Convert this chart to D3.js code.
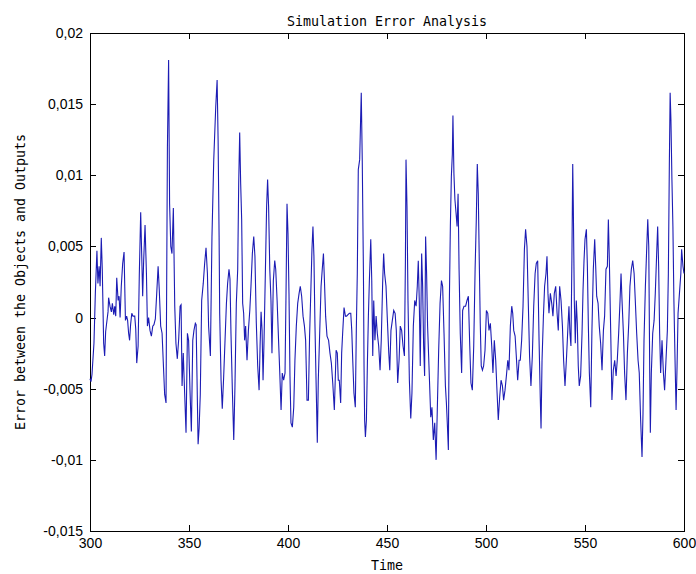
<!DOCTYPE html>
<html>
<head>
<meta charset="utf-8">
<script src="https://cdn.jsdelivr.net/npm/d3@7"></script>
<style>
  body { margin: 0; background: #fff; }
</style>
</head>
<body>
<div id="chart"></div>
<script>
"use strict";

// values (time, error)
const time = [
  300,300.5,301,302,302.7,303.5,304,304.6,305.1,305.7,
  306.2,306.9,307.4,307.9,308.4,309.1,309.4,310.1,310.8,311.3,
  312,312.5,313,313.5,314.2,314.7,315.2,315.8,316.5,317.2,
  317.9,318.5,319,319.5,320,320.5,321.1,321.7,322.6,323.1,
  323.6,324.3,324.9,325.6,326.1,326.6,327.1,327.8,328.5,329,
  329.6,330.3,331,331.7,332.3,333,333.7,334.4,335,335.7,
  336.4,337,337.7,338.4,339.1,339.7,340.2,340.8,341.4,342.1,
  342.8,343.4,344.1,344.8,345.5,346,346.5,347.1,347.8,348.5,
  349.2,349.8,350.5,351.2,351.9,352.5,353.2,353.6,354.6,355.1,
  355.7,356.4,357.2,357.9,358.6,359.3,359.9,
  360.8,361.6,362.5,363.5,364.2,364.7,365.2,365.5,366.2,366.8,
  367.5,368.2,368.9,369.5,370.2,370.7,371.2,371.9,372.6,373.2,
  373.9,374.6,375.1,375.6,376.1,376.6,377.1,377.6,378.1,378.6,
  379.3,380,380.7,381.3,382,382.7,383.3,384,384.7,385.4,
  385.9,386.4,386.9,387.4,387.9,388.6,389.2,389.7,390.2,390.8,
  391.4,391.9,392.6,393.3,393.8,394.5,395.1,395.8,396.5,397.1,
  397.8,398.5,399,399.5,400,400.5,401,401.5,402.2,402.9,
  403.5,404.2,404.9,405.6,406.2,406.9,407.6,408.3,408.9,409.6,
  410.3,410.9,411.6,412.1,412.6,413.1,413.6,414.3,414.8,415.3,
  416,416.7,417.3,417.9,418.4,419,419.7,
  420.5,421.2,421.9,422.6,423.4,424.3,424.9,425.4,425.9,426.6,
  427.1,427.6,428.3,429,429.6,430.3,431,431.7,432.2,432.7,
  433.3,434,434.5,435,435.5,436.2,436.7,437,437.5,438.1,
  438.4,438.7,439.1,439.6,440.1,440.6,441.1,441.8,442.3,442.8,
  443.3,443.9,444.5,445.1,445.8,446.5,447.1,447.8,448.3,448.8,
  449.5,450.2,450.9,451.4,452,452.7,453.4,454.1,454.7,455.4,
  456.1,456.7,457.4,458.1,458.8,459.3,459.6,460.1,460.6,461.3,
  462,462.6,463.3,464,464.7,465.3,465.8,466.3,466.8,467.5,
  468,468.5,469,469.5,470,470.5,471.1,472.1,472.7,473.4,
  474.1,474.8,475.4,476.1,476.8,477.5,478.1,478.8,479.5,
  480,480.6,481,481.5,482,482.5,483,483.3,483.8,484.3,
  484.9,485.4,485.9,486.4,487,487.7,488.2,488.9,489.7,490.4,
  491.1,491.8,492.4,493.1,493.8,494.5,495.1,495.6,496.1,496.6,
  497.1,497.6,498.2,498.8,499.5,500.2,500.9,501.5,502.2,502.9,
  503.5,504.2,504.9,505.6,506.2,506.9,507.6,508.3,508.9,509.6,
  510.3,511,511.6,512.3,513,513.5,514,514.7,515.3,516,
  516.7,517.3,518,518.7,519.4,520,520.7,521.4,522,522.7,
  523.4,524.1,524.8,525.4,526.1,526.8,527.4,527.8,528.3,529,
  529.6,530.3,530.8,531.3,531.8,532.5,533.2,533.8,534.5,535.2,
  535.9,536.5,537.2,537.9,538.6,539.2,539.9,
  540.7,541.4,541.9,542.4,542.9,543.4,543.8,544.1,544.6,545.1,
  545.6,546.1,546.6,547.1,547.8,548.5,549,549.5,550,550.7,
  551.2,551.7,552.2,552.9,553.5,554.2,554.9,555.4,555.9,556.6,
  557.2,557.9,558.6,559.3,559.9,560.6,561.3,561.8,562.3,563,
  563.6,564.3,565,565.7,566.3,567,567.7,568.2,568.7,569.4,
  570,570.7,571.4,572.1,572.7,573.4,574.1,574.8,575.4,576.1,
  576.8,577.4,578.1,578.8,579.3,579.8,580.5,581.2,581.7,582.2,
  582.7,583,583.5,584.2,584.9,585.5,586.2,586.7,587.2,587.7,
  588.2,588.9,589.6,590.2,590.9,591.6,592.1,592.6,593,593.4,
  593.9,594.4,594.9,595.5,596,596.5,597,597.7,598.4,598.8,
  599.5,600
];

const error = [
  -.0043,-.0045,-.0040,-.0018,.0017,.0047,.0024,.0036,.0022,.0056,
  .0034,-.0018,-.0027,-.0010,-.0004,.0004,.0014,.0008,.0004,.0010,
  .0002,.0008,.0001,.0028,.0012,.0015,.0000,.0022,.0038,.0046,
  -.0002,.0001,-.0002,-.0011,-.0016,-.0005,.0003,.0001,.0001,-.0008,
  -.0032,-.0020,.0030,.0074,.0045,.0015,.0040,.0065,.0031,-.0006,
  .0000,-.0009,-.0013,-.0006,-.0005,-.0001,.0017,.0036,.0019,-.0006,
  -.0011,-.0031,-.0054,-.0060,.0120,.0181,.0080,.0050,.0045,.0077,
  .0008,-.0018,-.0029,-.0015,.0008,.0009,-.0048,-.0025,-.0053,-.0081,
  -.0011,-.0016,-.0051,-.0080,-.0016,-.0009,-.0004,-.0005,-.0089,-.0078,
  -.0054,.0012,.0024,.0038,.0049,.0031,-.0006,
  -.0027,.0057,.0111,.0148,.0167,.0125,.0057,.0003,-.0044,-.0064,
  -.0042,-.0016,.0010,.0024,.0034,.0027,-.0011,-.0051,-.0086,-.0049,
  .0010,.0034,.0094,.0130,.0094,.0069,.0010,.0003,-.0016,-.0006,
  -.0030,-.0009,.0005,.0022,.0045,.0057,.0043,-.0004,-.0034,-.0051,
  -.0020,.0004,-.0009,-.0044,-.0016,.0034,.0078,.0097,.0078,.0034,
  .0012,-.0025,.0026,.0040,.0034,.0012,-.0011,-.0037,-.0065,-.0039,
  -.0044,-.0039,.0017,.0080,.0059,.0017,-.0041,-.0074,-.0077,-.0063,
  -.0030,-.0006,.0010,.0017,.0022,.0015,.0001,-.0006,-.0016,-.0058,
  -.0058,-.0013,.0022,.0048,.0064,.0043,-.0004,-.0053,-.0088,-.0044,
  -.0011,.0022,.0034,.0045,.0026,.0001,-.0013,
  -.0016,-.0025,-.0032,-.0046,-.0065,-.0023,-.0025,-.0044,-.0044,-.0060,
  -.0025,-.0011,.0007,.0001,.0001,.0002,.0003,.0003,-.0009,-.0030,
  -.0053,-.0063,-.0009,.0031,.0104,.0111,.0141,.0158,.0111,.0031,
  -.0034,-.0072,-.0084,-.0072,-.0032,.0001,.0026,.0055,.0026,-.0027,
  .0012,-.0016,.0001,-.0011,-.0020,-.0037,-.0016,.0024,.0045,.0031,
  .0022,-.0002,-.0025,-.0037,-.0009,-.0002,.0005,.0003,-.0009,-.0046,
  -.0030,-.0006,-.0009,-.0020,-.0027,.0040,.0111,.0078,.0012,-.0044,
  -.0071,-.0053,-.0006,.0012,.0008,.0022,.0040,.0012,-.0034,.0045,
  .0022,-.0020,-.0041,.0057,.0031,-.0006,-.0030,-.0070,-.0063,-.0086,
  -.0074,-.0100,-.0065,-.0023,.0010,.0026,.0022,-.0011,-.0048,
  -.0060,-.0079,-.0093,.0012,.0064,.0099,.0115,.0142,.0101,.0083,
  .0073,.0064,.0087,.0034,-.0011,-.0039,.0005,.0008,.0008,.0012,
  .0015,-.0020,-.0046,-.0051,-.0020,.0034,.0069,.0108,.0087,.0040,
  -.0004,-.0034,-.0037,-.0034,-.0023,.0005,.0003,-.0009,-.0004,-.0020,
  -.0039,-.0016,-.0030,-.0053,-.0072,-.0056,-.0044,-.0048,-.0058,-.0051,
  -.0041,-.0030,-.0037,-.0006,.0008,.0003,-.0009,-.0013,-.0027,-.0044,
  -.0030,-.0030,-.0016,.0008,.0048,.0062,.0050,.0008,-.0027,-.0048,
  -.0027,.0008,.0031,.0038,.0040,-.0016,-.0056,-.0078,-.0030,.0001,
  .0022,.0031,.0043,.0017,.0003,.0017,.0010,.0001,.0017,.0022,
  .0003,-.0009,.0022,.0012,-.0006,-.0030,-.0048,
  -.0027,-.0006,.0008,-.0011,-.0020,.0043,.0108,.0078,.0012,-.0018,
  .0012,-.0004,-.0034,-.0048,-.0041,-.0011,.0019,.0040,.0055,.0062,
  .0036,-.0006,-.0039,-.0063,-.0009,.0034,.0055,.0036,.0015,.0010,
  -.0006,-.0018,-.0037,-.0009,.0001,.0034,.0036,.0069,.0040,-.0011,
  -.0058,-.0037,-.0030,-.0041,-.0030,-.0011,.0012,.0031,.0012,-.0011,
  -.0039,-.0058,-.0025,-.0004,.0022,.0034,.0040,.0031,.0012,-.0011,
  -.0030,-.0039,-.0072,-.0098,-.0067,-.0016,.0022,.0050,.0069,.0050,
  -.0039,-.0081,-.0039,-.0011,-.0002,.0017,.0045,.0064,.0036,-.0011,
  -.0039,-.0016,-.0039,-.0051,-.0030,-.0009,.0031,.0108,.0158,.0139,
  .0097,.0064,.0012,-.0032,-.0065,-.0034,.0003,.0017,.0031,.0048,
  .0036,.0031
];

const xTicks = [300, 350, 400, 450, 500, 550, 600];
const yTicks = [-0.015, -0.01, -0.005, 0, 0.005, 0.01, 0.015, 0.02];

const chartTitle = "Simulation Error Analysis";
const xLabel = "Time";
const yLabel = "Error between the Objects and Outputs";

const width = 696;
const height = 574;
const margin = { top: 33, right: 12, bottom: 43, left: 90 };

const data = time.map((t, i) => ({ t: t, e: error[i] }));

const svg = d3.select("#chart")
  .append("svg")
  .attr("width", width)
  .attr("height", height)
  .style("display", "block");

const x = d3.scaleLinear()
  .domain([300, 600])
  .range([margin.left, width - margin.right]);

const y = d3.scaleLinear()
  .domain([-0.015, 0.02])
  .range([height - margin.bottom, margin.top]);

// the reference prints decimal commas on the y axis
const fmtX = d => String(d);
const fmtY = d => String(d).replace(".", ",");

// ticks point inward on all four sides, matlab style
svg.append("g")
  .attr("transform", `translate(0,${height - margin.bottom})`)
  .call(d3.axisBottom(x).tickValues(xTicks).tickFormat(fmtX).tickSize(-6).tickSizeOuter(0).tickPadding(7));

svg.append("g")
  .attr("transform", `translate(0,${margin.top})`)
  .call(d3.axisTop(x).tickValues(xTicks).tickFormat("").tickSize(-6).tickSizeOuter(0));

svg.append("g")
  .attr("transform", `translate(${margin.left},0)`)
  .call(d3.axisLeft(y).tickValues(yTicks).tickFormat(fmtY).tickSize(-6).tickSizeOuter(0).tickPadding(7));

svg.append("g")
  .attr("transform", `translate(${width - margin.right},0)`)
  .call(d3.axisRight(y).tickValues(yTicks).tickFormat("").tickSize(-6).tickSizeOuter(0));

svg.selectAll(".domain, .tick line")
  .attr("stroke", "#000")
  .attr("stroke-width", 1)
  .attr("shape-rendering", "crispEdges");

svg.selectAll(".tick text")
  .attr("fill", "#000")
  .style("font-family", "'Liberation Sans', Arial, sans-serif")
  .style("font-size", "14px");

const line = d3.line()
  .x(d => x(d.t))
  .y(d => y(d.e));

svg.append("path")
  .datum(data)
  .attr("fill", "none")
  .attr("stroke", "#1c1cb4")
  .attr("stroke-width", 1.1)
  .attr("d", line);

svg.append("text")
  .attr("x", (margin.left + width - margin.right) / 2)
  .attr("y", 26)
  .attr("text-anchor", "middle")
  .style("font-family", "'DejaVu Sans Mono', monospace")
  .style("font-size", "13.3px")
  .text(chartTitle);

svg.append("text")
  .attr("x", (margin.left + width - margin.right) / 2)
  .attr("y", 570)
  .attr("text-anchor", "middle")
  .style("font-family", "'DejaVu Sans Mono', monospace")
  .style("font-size", "13.3px")
  .text(xLabel);

svg.append("text")
  .attr("transform", `translate(25,${(margin.top + height - margin.bottom) / 2}) rotate(-90)`)
  .attr("text-anchor", "middle")
  .style("font-family", "'DejaVu Sans Mono', monospace")
  .style("font-size", "13.3px")
  .text(yLabel);
</script>
</body>
</html>
